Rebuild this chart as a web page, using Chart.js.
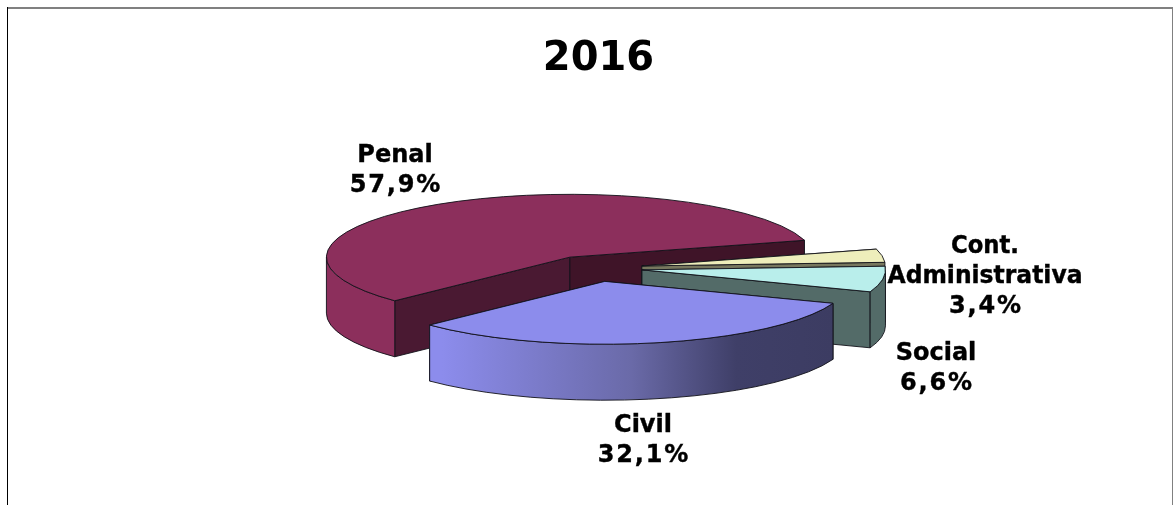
<!DOCTYPE html>
<html lang="pt">
<head>
<meta charset="utf-8">
<title>2016</title>
<script src="https://cdn.jsdelivr.net/npm/chart.js@4"></script>
<style>
    html, body { margin: 0; padding: 0; background: #fff; overflow: hidden; }
    #quadro { position: absolute; left: 7px; top: 7px; width: 1165px; height: 520px; border-left: 1px solid #000; }
    #quadro::before { content: ''; position: absolute; left: 0; right: 0; top: 0; height: 2px; background: #808080; }
    #quadro::after { content: ''; position: absolute; right: 0; top: 0; bottom: 0; width: 1px; background: #808080; }
    canvas { position: absolute; left: 0; top: 0; }
</style>
</head>
<body>
<div id="quadro"></div>
<canvas id="grafico" width="1173" height="505"></canvas>
<script>
const titulo = '2016';
const categorias = ['Penal', 'Cont.\nAdministrativa', 'Social', 'Civil'];
const valores = [57.9, 3.4, 6.6, 32.1];

const coresTopo = ['#8c2f5c', '#eeeebb', '#b9eeeb', '#8c8cec'];
const coresLateral = ['#8c2f5c', '#77775e', '#536b68', null];
const corteInicio = ['#4a1932', '#77775e', '#536b68', '#3c3c64'];
const corteFim = ['#3f1428', '#77775e', '#536b68', '#3c3c64'];
const explosoes = [48.5, 48.5, 48.5, 53];
// x central e linha de base da primeira linha de cada rotulo
const posRotulos = [[395, 162], [985, 253], [936, 360], [643, 432]];
const largurasMax = { 'Cont.': 68, 'Administrativa': 195 };

const centro = { x: 594, y: 268 };
const achatado = 0.258, profundidade = 56;
const corLinha = '#111118';
const fonte = 'bold 24px "DejaVu Sans"';

const apice = (arc, i) => {
    const meio = (arc.startAngle + arc.endAngle) / 2;
    return {
        x: centro.x + Math.cos(meio) * explosoes[i],
        y: centro.y + Math.sin(meio) * explosoes[i] * achatado
    };
};

const naBorda = (arc, p, ang) => ({
    x: p.x + Math.cos(ang) * arc.outerRadius,
    y: p.y + Math.sin(ang) * arc.outerRadius * achatado
});

function desenhaCorte(ctx, arc, p, ang, cor) {
    const b = naBorda(arc, p, ang);
    ctx.beginPath();
    ctx.moveTo(p.x, p.y);
    ctx.lineTo(b.x, b.y);
    ctx.lineTo(b.x, b.y + profundidade);
    ctx.lineTo(p.x, p.y + profundidade);
    ctx.closePath();
    ctx.fillStyle = cor;
    ctx.fill();
    ctx.stroke();
}

// so a parte da volta que fica virada para a frente (seno positivo)
function desenhaLateral(ctx, arc, p, cor) {
    [0, Math.PI * 2].forEach(k => {
        const a0 = Math.max(arc.startAngle, k), a1 = Math.min(arc.endAngle, k + Math.PI);
        if (a1 <= a0) return;
        const r = arc.outerRadius;
        ctx.beginPath();
        ctx.ellipse(p.x, p.y, r, r * achatado, 0, a0, a1);
        ctx.ellipse(p.x, p.y + profundidade, r, r * achatado, 0, a1, a0, true);
        ctx.closePath();
        ctx.fillStyle = cor || gradienteCivil(ctx, arc, p, a0, a1);
        ctx.fill();
        ctx.stroke();
    });
}

function gradienteCivil(ctx, arc, p, a0, a1) {
    const g = ctx.createLinearGradient(naBorda(arc, p, a1).x, 0, naBorda(arc, p, a0).x, 0);
    g.addColorStop(0.03, '#8c8cec');
    g.addColorStop(0.5, '#6a6aa8');
    g.addColorStop(0.76, '#3f3f68');
    g.addColorStop(1, '#3c3c62');
    return g;
}

const pizza3d = {
    id: 'pizza3d',
    beforeDatasetDraw(chart, args) {
        const ctx = chart.ctx, arcos = args.meta.data;
        ctx.save();
        ctx.strokeStyle = corLinha;
        ctx.lineWidth = 0.9;
        ctx.lineJoin = 'round';
        arcos.forEach((arc, i) => {
            const p = apice(arc, i);
            desenhaCorte(ctx, arc, p, arc.startAngle, corteInicio[i]);
            desenhaCorte(ctx, arc, p, arc.endAngle, corteFim[i]);
            desenhaLateral(ctx, arc, p, coresLateral[i]);
        });
        arcos.forEach((arc, i) => {
            const p = apice(arc, i);
            ctx.save();
            ctx.translate(p.x, p.y);
            ctx.scale(1, achatado);
            ctx.translate(-arc.x, -arc.y);
            arc.draw(ctx);
            ctx.restore();
            ctx.beginPath();
            ctx.moveTo(p.x, p.y);
            ctx.ellipse(p.x, p.y, arc.outerRadius, arc.outerRadius * achatado, 0, arc.startAngle, arc.endAngle);
            ctx.closePath();
            ctx.stroke();
        });
        ctx.restore();
        return false;
    },
    afterDatasetsDraw(chart) {
        const ctx = chart.ctx;
        ctx.save();
        ctx.font = fonte;
        ctx.fillStyle = '#000';
        ctx.strokeStyle = '#000';
        ctx.lineWidth = 0.4;
        ctx.textAlign = 'center';
        ctx.textBaseline = 'alphabetic';
        categorias.forEach((nome, i) => {
            const [x, y] = posRotulos[i];
            const linhas = nome.split('\n');
            linhas.forEach((txt, l) => {
                const max = largurasMax[txt] || 400;
                ctx.fillText(txt, x, y + l * 30, max);
                ctx.strokeText(txt, x, y + l * 30, max);
            });
            // o % da fonte original e mais largo, abre um pouco o texto do valor
            const pct = valores[i].toFixed(1).replace('.', ',') + '%';
            ctx.letterSpacing = '1.8px';
            ctx.fillText(pct, x + 1, y + linhas.length * 30);
            ctx.strokeText(pct, x + 1, y + linhas.length * 30);
            ctx.letterSpacing = '0px';
        });
        ctx.restore();
    }
};

new Chart(document.getElementById('grafico').getContext('2d'), {
    type: 'pie',
    data: {
        labels: categorias,
        datasets: [{ data: valores, backgroundColor: coresTopo, borderWidth: 0 }]
    },
    options: {
        responsive: false,
        animation: false,
        events: [],
        rotation: 226,
        radius: 243.5,
        layout: { padding: { left: 24 } },
        plugins: {
            legend: { display: false },
            tooltip: { enabled: false },
            title: {
                display: true,
                text: titulo,
                color: '#000',
                font: { family: '"DejaVu Sans"', size: 40, weight: 'bold' },
                padding: { top: 36, bottom: 10 }
            }
        }
    },
    plugins: [pizza3d]
});
</script>
</body>
</html>
